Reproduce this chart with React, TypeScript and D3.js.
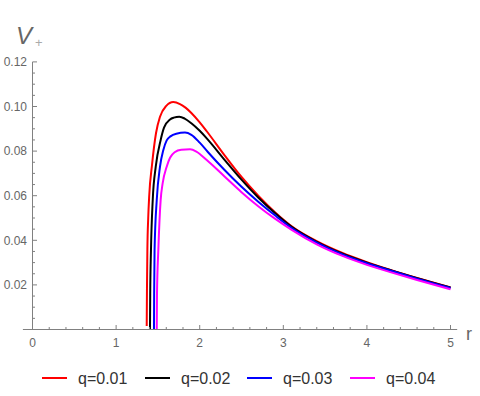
import * as d3 from "d3";

// r values and V+ values, one pair of arrays per q
const q1R = [1.366, 1.369, 1.374, 1.384, 1.396, 1.43, 1.477, 1.525, 1.597, 1.684, 1.764, 1.83, 1.9, 2.0, 2.084, 2.3, 2.5, 2.7, 2.9, 3.1, 3.4, 3.7, 4.0, 4.3, 4.6, 5.0];
const q1V = [0.0016, 0.018, 0.036, 0.05, 0.06, 0.074, 0.088, 0.0954, 0.1002, 0.102, 0.1011, 0.0995, 0.0971, 0.0929, 0.0889, 0.078, 0.0684, 0.06, 0.0526, 0.0463, 0.0396, 0.0344, 0.0302, 0.0265, 0.0231, 0.0189];

const q2R = [1.405, 1.408, 1.417, 1.438, 1.474, 1.533, 1.573, 1.645, 1.69, 1.756, 1.82, 1.9, 2.0, 2.084, 2.3, 2.5, 2.7, 2.9, 3.1, 3.4, 3.7, 4.0, 4.3, 4.6, 5.0];
const q2V = [0, 0.016, 0.0356, 0.0581, 0.073, 0.085, 0.0905, 0.0942, 0.095, 0.0954, 0.0946, 0.0925, 0.0891, 0.0857, 0.076, 0.0672, 0.0592, 0.0522, 0.046, 0.0393, 0.0341, 0.03, 0.0264, 0.023, 0.0188];

const q3R = [1.453, 1.455, 1.46, 1.486, 1.525, 1.565, 1.605, 1.65, 1.72, 1.824, 1.9, 2.0, 2.1, 2.3, 2.5, 2.7, 2.9, 3.1, 3.4, 3.7, 4.0, 4.3, 4.6, 5.0];
const q3V = [0, 0.016, 0.0357, 0.0581, 0.073, 0.0805, 0.0848, 0.0866, 0.0878, 0.0883, 0.0873, 0.0838, 0.0795, 0.0714, 0.064, 0.0573, 0.0512, 0.0455, 0.039, 0.0338, 0.0297, 0.0262, 0.0228, 0.0186];

const q4R = [1.486, 1.489, 1.505, 1.533, 1.557, 1.605, 1.645, 1.7, 1.78, 1.884, 1.96, 2.084, 2.3, 2.5, 2.7, 2.9, 3.1, 3.4, 3.7, 4.0, 4.3, 4.6, 5.0];
const q4V = [0, 0.016, 0.0357, 0.0581, 0.0656, 0.073, 0.077, 0.0795, 0.0806, 0.0808, 0.0798, 0.076, 0.0685, 0.0616, 0.0553, 0.0497, 0.0447, 0.0382, 0.0331, 0.029, 0.0255, 0.0222, 0.018];

const labels = ["q=0.01", "q=0.02", "q=0.03", "q=0.04"];
const colors = ["#ff0000", "#000000", "#0000ff", "#ff00ff"];

const xTicks = [0, 1, 2, 3, 4, 5];
const yTicks = [0.02, 0.04, 0.06, 0.08, 0.1, 0.12];

const series = [
  { r: q1R, v: q1V },
  { r: q2R, v: q2V },
  { r: q3R, v: q3V },
  { r: q4R, v: q4V },
];

const W = 480;
const H = 396;

export default function App() {
  const x = d3.scaleLinear().domain([-0.115, 5.08]).range([22.9, 457.2]);
  const y = d3.scaleLinear().domain([0, 0.12]).range([329.5, 61.9]);

  const line = d3
    .line<[number, number]>()
    .x((d) => x(d[0]))
    .y((d) => y(d[1]))
    .curve(d3.curveMonotoneX);

  const xMinor = d3.range(0, 5.01, 0.2);
  const yMinor = d3.range(0.005, 0.1201, 0.005);
  const axisColor = "#808080";
  const textColor = "#666";
  const font = "Liberation Sans, Arial, sans-serif";

  // legend layout
  const legendX = [42, 145, 247, 350];

  return (
    <div style={{ position: "absolute", left: 0, top: 0 }}>
      <svg width={W} height={H} style={{ display: "block", background: "#fff" }} fontFamily={font}>
        {/* curves */}
        {series.map((s, i) => (
          <path
            key={i}
            d={line(s.r.map((r, j) => [r, s.v[j]] as [number, number])) || ""}
            fill="none"
            stroke={colors[i]}
            strokeWidth={2}
            strokeLinejoin="round"
          />
        ))}

        {/* x axis */}
        <line x1={x.range()[0]} x2={x.range()[1]} y1={y(0)} y2={y(0)} stroke={axisColor} strokeWidth={1} />
        {xMinor.map((t) => {
          const major = Math.abs(t - Math.round(t)) < 1e-6;
          return (
            <line key={t} x1={x(t)} x2={x(t)} y1={y(0)} y2={y(0) - (major ? 4.5 : 2.5)} stroke={axisColor} strokeWidth={1} />
          );
        })}
        {xTicks.map((t) => (
          <text key={t} x={x(t)} y={347} textAnchor="middle" fontSize={12} fill={textColor}>
            {t}
          </text>
        ))}

        {/* y axis */}
        <line x1={x(0)} x2={x(0)} y1={y(0)} y2={y(0.12)} stroke={axisColor} strokeWidth={1} />
        {yMinor.map((t) => {
          const major = Math.abs(t / 0.02 - Math.round(t / 0.02)) < 1e-6;
          return (
            <line key={t} x1={x(0)} x2={x(0) + (major ? 4.5 : 2.5)} y1={y(t)} y2={y(t)} stroke={axisColor} strokeWidth={1} />
          );
        })}
        {yTicks.map((t) => (
          <text key={t} x={27} y={y(t) + 4.3} textAnchor="end" fontSize={12} fill={textColor}>
            {t.toFixed(2)}
          </text>
        ))}

        {/* axis labels */}
        <text x={16} y={44} fontSize={24} fontStyle="italic" fill={textColor}>
          V
        </text>
        <text x={35} y={47} fontSize={13} fill="#aaa">
          +
        </text>
        <text x={466} y={340} fontSize={18} fill={textColor}>
          r
        </text>

        {/* legend */}
        {labels.map((l, i) => (
          <g key={l} transform={`translate(${legendX[i]},378)`}>
            <line x1={0} x2={25} y1={0} y2={0} stroke={colors[i]} strokeWidth={2} />
            <text x={36} y={5.5} fontSize={16} fill="#333">
              {l}
            </text>
          </g>
        ))}
      </svg>
    </div>
  );
}
